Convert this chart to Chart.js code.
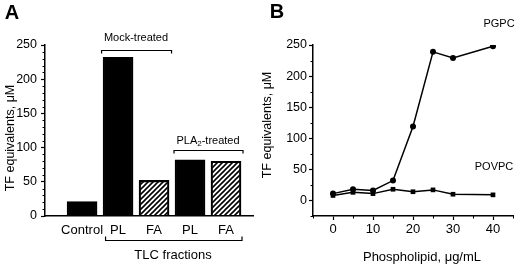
<!DOCTYPE html>
<html>
<head>
<meta charset="utf-8">
<script src="https://cdn.jsdelivr.net/npm/chart.js@4.4.1/dist/chart.umd.min.js"></script>
<style>
  html, body { margin: 0; padding: 0; background: #fff; }
  #wrap { position: relative; width: 520px; height: 268px; }
  .panel { position: absolute; top: 0; width: 260px; height: 268px; }
  #panelA { left: 0; }
  #panelB { left: 260px; }
</style>
</head>
<body>
<div id="wrap">
  <div class="panel" id="panelA"><canvas id="chartA" width="260" height="268"></canvas></div>
  <div class="panel" id="panelB"><canvas id="chartB" width="260" height="268"></canvas></div>
</div>
<script>
// panel A - TLC fractions
const fractions = ['Control', 'PL', 'FA', 'PL', 'FA'];
const tfEquiv = [21, 232, 52, 82, 80];
const hatched = [false, false, true, false, true];
const yTicksA = [0, 50, 100, 150, 200, 250];

// panel B - phospholipid dose
const phospholipid = [0, 5, 10, 15, 20, 25, 30, 40];
const pgpc = [11, 18, 16, 32, 119, 239, 229, 248];
const povpc = [8, 13, 11, 18, 14, 17, 10, 9];
const yTicksB = [0, 50, 100, 150, 200, 250];
const xTicksB = [0, 10, 20, 30, 40];

const FONT = "'Liberation Sans', Arial, Helvetica, sans-serif";
Chart.defaults.font.family = FONT;
Chart.defaults.color = '#000';

//diagonal hatch for the FA bars
function hatchPattern() {
    const c = document.createElement('canvas');
    c.width = 5; c.height = 5;
    const g = c.getContext('2d');
    g.strokeStyle = '#000';
    g.lineWidth = 1.6;
    g.beginPath();
    g.moveTo(0, 5); g.lineTo(5, 0);
    g.moveTo(-1, 1); g.lineTo(1, -1);
    g.moveTo(4, 6); g.lineTo(6, 4);
    g.stroke();
    return g.createPattern(c, 'repeat');
}

//short ticks between the labelled ones
const minorTicks = {
    id: 'minorTicks',
    afterDraw(chart, args, opts) {
        const ctx = chart.ctx;
        const area = chart.chartArea;
        ctx.save();
        ctx.strokeStyle = '#000';
        ctx.lineWidth = 1;
        ctx.beginPath();
        (opts.y || []).forEach(v => {
            const p = Math.round(chart.scales.y.getPixelForValue(v)) + 0.5;
            ctx.moveTo(area.left - 2.5, p);
            ctx.lineTo(area.left, p);
        });
        (opts.x || []).forEach(v => {
            const p = Math.round(chart.scales.x.getPixelForValue(v)) + 0.5;
            ctx.moveTo(p, area.bottom);
            ctx.lineTo(p, area.bottom + 2.5);
        });
        ctx.stroke();
        ctx.restore();
    }
};

function bracket(ctx, x1, x2, y, d) {
    ctx.beginPath();
    ctx.moveTo(x1, y + d);
    ctx.lineTo(x1, y);
    ctx.lineTo(x2, y);
    ctx.lineTo(x2, y + d);
    ctx.stroke();
}

function yTitle(ctx, text, cx, cy) {
    ctx.save();
    ctx.translate(cx, cy);
    ctx.rotate(-Math.PI / 2);
    ctx.font = '12.5px ' + FONT;
    ctx.textAlign = 'center';
    ctx.textBaseline = 'middle';
    ctx.fillText(text, 0, 0);
    ctx.restore();
}

const notesA = {
    id: 'notesA',
    afterDraw(chart) {
        const ctx = chart.ctx;
        const x = chart.scales.x;
        ctx.save();
        ctx.fillStyle = '#000';
        ctx.strokeStyle = '#000';
        ctx.lineWidth = 1.2;
        ctx.textAlign = 'center';
        ctx.textBaseline = 'middle';

        ctx.font = 'bold 20px ' + FONT;
        ctx.fillText('A', 12, 13);

        yTitle(ctx, 'TF equivalents, \u03bcM', 11, 138);

        //mock-treated bracket over first PL/FA
        bracket(ctx, x.getPixelForValue(2) - 16.5, x.getPixelForValue(3) + 17.5, 50.5, 3);
        ctx.font = '11px ' + FONT;
        ctx.fillText('Mock-treated', 136, 38);

        //PLA2-treated bracket
        bracket(ctx, x.getPixelForValue(4) - 16, x.getPixelForValue(5) + 17, 150.5, 3);
        const parts = [['PLA', '11px', 0], ['2', '8px', 3], ['-treated', '11px', 0]];
        let total = 0;
        parts.forEach(p => { ctx.font = p[1] + ' ' + FONT; total += ctx.measureText(p[0]).width; });
        let px = 208 - total / 2;
        ctx.textAlign = 'left';
        parts.forEach(p => {
            ctx.font = p[1] + ' ' + FONT;
            ctx.fillText(p[0], px, 141 + p[2]);
            px += ctx.measureText(p[0]).width;
        });

        //TLC fractions bracket under the four fractions
        bracket(ctx, x.getPixelForValue(2) - 12.5, x.getPixelForValue(5) + 16, 240.5, -4);
        ctx.textAlign = 'center';
        ctx.font = '13px ' + FONT;
        ctx.fillText('TLC fractions', 173, 255);
        ctx.restore();
    }
};

const notesB = {
    id: 'notesB',
    afterDraw(chart) {
        const ctx = chart.ctx;
        ctx.save();
        ctx.fillStyle = '#000';
        ctx.textAlign = 'center';
        ctx.textBaseline = 'middle';

        ctx.font = 'bold 20px ' + FONT;
        ctx.fillText('B', 17, 12);

        yTitle(ctx, 'TF equivalents, \u03bcM', 8, 125);

        ctx.font = '13px ' + FONT;
        ctx.fillText('Phospholipid, \u03bcg/mL', 162, 257);

        ctx.font = '11px ' + FONT;
        ctx.fillText('PGPC', 239, 24);
        ctx.fillText('POVPC', 234, 167);
        ctx.restore();
    }
};

const minorYA = [];
for (let v = 10; v < 250; v += 10) if (v % 50 !== 0) minorYA.push(v);
const minorYB = [-25, 25, 75, 125, 175, 225];
const minorXB = [-5, 5, 15, 25, 35, 45];

const pattern = hatchPattern();

new Chart(document.getElementById('chartA'), {
    type: 'bar',
    data: {
        datasets: [{
            data: tfEquiv.map((v, i) => ({x: i + 1, y: v})),
            backgroundColor: hatched.map(h => h ? pattern : '#000'),
            borderColor: '#000',
            borderWidth: 1.5,
            barThickness: 30
        }]
    },
    options: {
        responsive: false,
        devicePixelRatio: 1,
        animation: false,
        layout: { padding: { left: 0, top: 45, right: 7, bottom: 0 } },
        plugins: {
            legend: { display: false },
            tooltip: { enabled: false },
            minorTicks: { y: minorYA }
        },
        scales: {
            x: {
                type: 'linear',
                min: -0.03,
                max: 5.75,
                offset: false,
                afterBuildTicks: s => { s.ticks = fractions.map((f, i) => ({value: i + 1})); },
                afterFit: s => { s.height = 52; },
                ticks: {
                    font: { size: 13 },
                    padding: 7,
                    maxRotation: 0,
                    callback: v => fractions[v - 1]
                },
                grid: { display: true, drawOnChartArea: false, drawTicks: false },
                border: { display: true, color: '#000', width: 1.5 }
            },
            y: {
                min: 0,
                max: 250,
                afterBuildTicks: s => { s.ticks = yTicksA.map(v => ({value: v})); },
                afterFit: s => { s.width = 45; },
                ticks: { font: { size: 12.5 }, padding: 4 },
                grid: { display: true, drawOnChartArea: false, drawTicks: true, tickLength: 4, tickColor: '#000', tickWidth: 1.2 },
                border: { display: true, color: '#000', width: 1.5 }
            }
        }
    },
    plugins: [minorTicks, notesA]
});

new Chart(document.getElementById('chartB'), {
    type: 'line',
    data: {
        datasets: [{
            label: 'PGPC',
            data: phospholipid.map((c, i) => ({x: c, y: pgpc[i]})),
            borderColor: '#000',
            backgroundColor: '#000',
            borderWidth: 1.5,
            pointStyle: 'circle',
            pointRadius: 3,
            pointBorderWidth: 0
        }, {
            label: 'POVPC',
            data: phospholipid.map((c, i) => ({x: c, y: povpc[i]})),
            borderColor: '#000',
            backgroundColor: '#000',
            borderWidth: 1.5,
            pointStyle: 'rect',
            pointRadius: 3.3,
            pointBorderWidth: 0
        }]
    },
    options: {
        responsive: false,
        devicePixelRatio: 1,
        animation: false,
        layout: { padding: { left: 0, top: 45, right: 7, bottom: 0 } },
        plugins: {
            legend: { display: false },
            tooltip: { enabled: false },
            minorTicks: { y: minorYB, x: minorXB }
        },
        scales: {
            x: {
                type: 'linear',
                min: -5,
                max: 45,
                afterBuildTicks: s => { s.ticks = xTicksB.map(v => ({value: v})); },
                afterFit: s => { s.height = 52; },
                ticks: { font: { size: 13 }, padding: 2, maxRotation: 0 },
                grid: { display: true, drawOnChartArea: false, drawTicks: true, tickLength: 4, tickColor: '#000', tickWidth: 1.2 },
                border: { display: true, color: '#000', width: 1.5 }
            },
            y: {
                min: -25,
                max: 250,
                afterBuildTicks: s => { s.ticks = yTicksB.map(v => ({value: v})); },
                afterFit: s => { s.width = 53; },
                ticks: { font: { size: 12.5 }, padding: 2 },
                grid: { display: true, drawOnChartArea: false, drawTicks: true, tickLength: 4, tickColor: '#000', tickWidth: 1.2 },
                border: { display: true, color: '#000', width: 1.5 }
            }
        }
    },
    plugins: [minorTicks, notesB]
});
</script>
</body>
</html>
